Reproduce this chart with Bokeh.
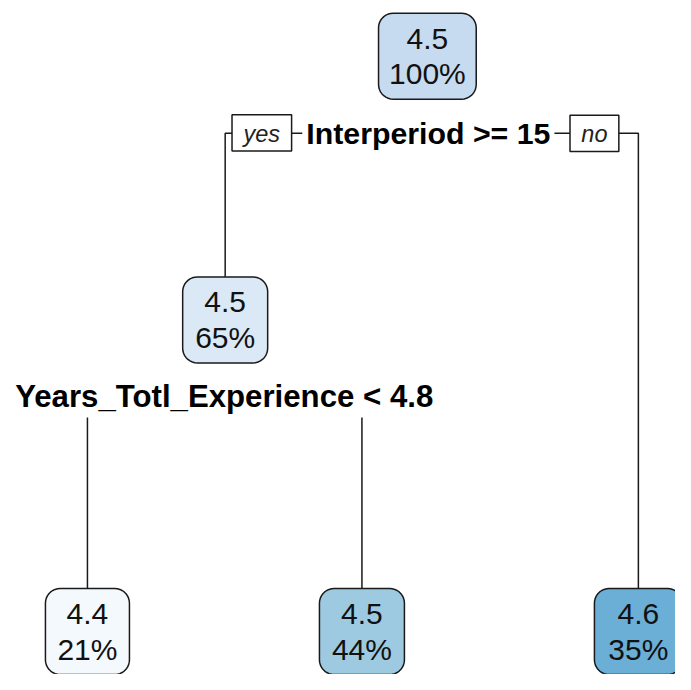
import numpy as np
from bokeh.plotting import figure
from bokeh.models import Range1d
from bokeh.core.properties import value
from bokeh.embed import file_html
from bokeh.resources import INLINE

# ---- data (tree content) ----
node_values = ["4.5", "4.5", "4.4", "4.5", "4.6"]
node_pcts = ["100%", "65%", "21%", "44%", "35%"]
node_fills = ["#c6dbef", "#dbe9f6", "#f4f9fe", "#9ecae1", "#6baed6"]
split_labels = ["Interperiod >= 15", "Years_Totl_Experience < 4.8"]
split_children = [(1, 4), (2, 3)]

# ---- layout (drawing coordinates, scaled uniformly into the figure) ----
node_x = [437, 230, 89, 370, 653]
node_y = [57, 327, 646, 646, 646]
node_w = [100, 87, 86, 87, 90]
node_h = 88
split_x = [438, 229]
split_y = [136, 405]
split_font = ["30.3px", "31.2px"]

W, H = 675, 674
p = figure(width=W, height=H, output_backend="svg", toolbar_location=None,
           x_range=Range1d(0, 691), y_range=Range1d(690, 0),
           min_border=0, outline_line_color=None)
p.axis.visible = False
p.grid.visible = False
p.background_fill_color = "white"
p.border_fill_color = "white"

# branches
bxs, bys = [], []
for k in range(len(split_labels)):
    l, r = split_children[k]
    sy = split_y[k]
    bxs.append([node_x[l], node_x[l], node_x[r], node_x[r]])
    bys.append([node_y[l] - node_h / 2, sy, sy, node_y[r] - node_h / 2])
p.multi_line(bxs, bys, line_color="#1a1a1a", line_width=1.5)

# split labels (white background hides the branch behind the text)
for k in range(len(split_labels)):
    p.text(x=[split_x[k]], y=[split_y[k]], text=[split_labels[k]], text_align="center",
           text_baseline="middle", text_font=value("Liberation Sans"),
           text_font_style="bold", text_font_size=split_font[k], text_color="black",
           background_fill_color="white", padding=4)

# yes / no boxes on the first split
yn_x = [267.5, 608]
yn_w = [61, 50]
yn_text = ["yes", "no"]
p.rect(x=yn_x, y=[135.5, 136], width=yn_w, height=37, fill_color="white",
       line_color="#1a1a1a", line_width=1.5)
p.text(x=yn_x, y=[137, 137], text=yn_text, text_align="center",
       text_baseline="middle", text_font=value("Liberation Sans"),
       text_font_style="italic", text_font_size="23.5px", text_color="#222222")

# rounded node boxes
def rounded(cx, cy, w, h, r=15, n=10):
    xs, ys = [], []
    corners = [(cx + w / 2 - r, cy - h / 2 + r, -90, 0),
               (cx + w / 2 - r, cy + h / 2 - r, 0, 90),
               (cx - w / 2 + r, cy + h / 2 - r, 90, 180),
               (cx - w / 2 + r, cy - h / 2 + r, 180, 270)]
    for (ox, oy, a0, a1) in corners:
        for a in np.linspace(np.radians(a0), np.radians(a1), n):
            xs.append(ox + r * np.cos(a))
            ys.append(oy + r * np.sin(a))
    return xs, ys

pxs, pys = [], []
for i in range(len(node_values)):
    xs, ys = rounded(node_x[i], node_y[i], node_w[i], node_h)
    pxs.append(xs)
    pys.append(ys)
p.patches(pxs, pys, fill_color=node_fills, line_color="#1a1a1a", line_width=1.5)

top_y = [y - 18 for y in node_y]
bot_y = [y + 18 for y in node_y]
p.text(x=node_x, y=top_y, text=node_values, text_align="center",
       text_baseline="middle", text_font=value("Liberation Sans"),
       text_font_size="30px", text_color="#111111")
p.text(x=node_x, y=bot_y, text=node_pcts, text_align="center",
       text_baseline="middle", text_font=value("Liberation Sans"),
       text_font_size="30px", text_color="#111111")

open("out.html", "w").write(file_html(p, INLINE))
